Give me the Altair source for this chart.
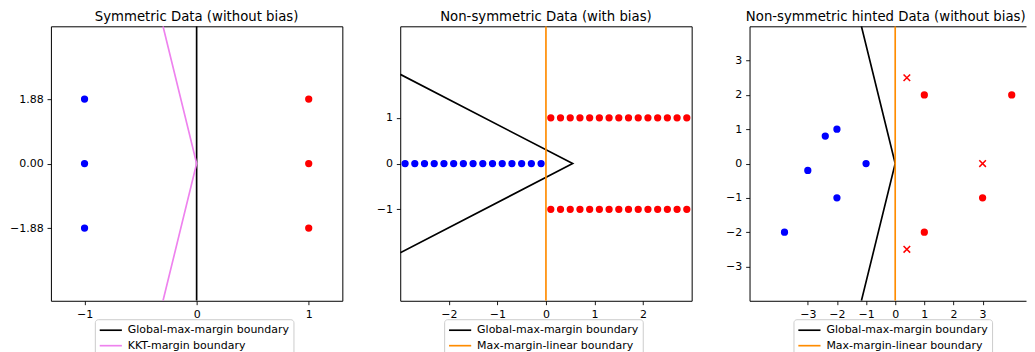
import altair as alt
import pandas as pd

FONT = "DejaVu Sans"

# ---------------- Panel 1: Symmetric Data (without bias) ----------------
p1_title = "Symmetric Data (without bias)"
p1_blue_x = [-1, -1, -1]
p1_blue_y = [1.88, 0.0, -1.88]
p1_red_x = [1, 1, 1]
p1_red_y = [1.88, 0.0, -1.88]
p1_global_x = [0, 0]
p1_global_y = [-4, 4]
p1_kkt_x = [-0.3, 0, -0.3]
p1_kkt_y = [4, 0, -4]
p1_xticks = [-1, 0, 1]
p1_yticks = [-1.88, 0, 1.88]

# ---------------- Panel 2: Non-symmetric Data (with bias) ----------------
p2_title = "Non-symmetric Data (with bias)"
p2_blue_x = [-2.9, -2.7, -2.5, -2.3, -2.1, -1.9, -1.7, -1.5, -1.3, -1.1, -0.9, -0.7, -0.5, -0.3, -0.1]
p2_blue_y = [0, 0, 0, 0, 0, 0, 0, 0, 0, 0, 0, 0, 0, 0, 0]
p2_red_x = [0.1, 0.3, 0.5, 0.7, 0.9, 1.1, 1.3, 1.5, 1.7, 1.9, 2.1, 2.3, 2.5, 2.7, 2.9,
            0.1, 0.3, 0.5, 0.7, 0.9, 1.1, 1.3, 1.5, 1.7, 1.9, 2.1, 2.3, 2.5, 2.7, 2.9]
p2_red_y = [1, 1, 1, 1, 1, 1, 1, 1, 1, 1, 1, 1, 1, 1, 1,
            -1, -1, -1, -1, -1, -1, -1, -1, -1, -1, -1, -1, -1, -1, -1]
p2_global_x = [-3, 0.55, -3]
p2_global_y = [1.95, 0, -1.95]
p2_linear_x = [0, 0]
p2_linear_y = [-3, 3]
p2_xticks = [-2, -1, 0, 1, 2]
p2_yticks = [-1, 0, 1]

# ---------------- Panel 3: Non-symmetric hinted Data (without bias) ----------------
p3_title = "Non-symmetric hinted Data (without bias)"
p3_blue_x = [-3.8, -3.0, -2.4, -2.0, -2.0, -1.0]
p3_blue_y = [-2.0, -0.2, 0.8, 1.0, -1.0, 0.0]
p3_red_x = [1, 4, 3, 1]
p3_red_y = [2, 2, -1, -2]
p3_hint_x = [0.4, 3, 0.4]
p3_hint_y = [2.5, 0, -2.5]
p3_global_x = [-1.16, 0, -1.16]
p3_global_y = [4, 0, -4]
p3_linear_x = [0, 0]
p3_linear_y = [-4, 4]
p3_xticks = [-3, -2, -1, 0, 1, 2, 3]
p3_yticks = [-3, -2, -1, 0, 1, 2, 3]

GLOBAL = "Global-max-margin boundary"
KKT = "KKT-margin boundary"
LINEAR = "Max-margin-linear boundary"

X_MARK = "M-1,-1L1,1M1,-1L-1,1"
LEGEND_LINE = "M-1.85,0H1.85"


def make_panel(title, xdom, ydom, xvals, yvals, xfmt, yfmt, lines, colors,
               dots, crosses, width, open_right=False, title_dx=0):
    names = [n for n, _, _ in lines]
    rows = []
    for n, xs_, ys_ in lines:
        for i, (a, b) in enumerate(zip(xs_, ys_)):
            rows.append({"series": n, "x": a, "y": b, "i": i})
    ldf = pd.DataFrame(rows)

    xs = alt.Scale(domain=xdom, nice=False, zero=False)
    ys = alt.Scale(domain=ydom, nice=False, zero=False)
    xaxis = alt.Axis(values=xvals, format=xfmt, title=None, domain=open_right,
                     grid=False)
    yaxis = alt.Axis(values=yvals, format=yfmt, title=None, domain=open_right,
                     grid=False)
    xenc_main = alt.X("x:Q", scale=xs, axis=xaxis)
    xenc_other = alt.X("x:Q", scale=xs, axis=None) if open_right else xenc_main
    yenc = alt.Y("y:Q", scale=ys, axis=yaxis)
    legend = alt.Legend(
        title=None, orient="none", legendX=44, legendY=293.5, direction="vertical",
        symbolType=LEGEND_LINE, symbolSize=144, symbolStrokeWidth=1.67,
        symbolOffset=5, labelFont=FONT, labelFontSize=11, labelColor="black",
        labelOffset=10, labelLimit=400, padding=4, rowPadding=3.5,
        strokeColor="#cccccc", fillColor="white", cornerRadius=3,
    )

    layers = []
    line = alt.Chart(ldf).mark_line(strokeWidth=1.67, clip=True).encode(
        x=xenc_main, y=yenc,
        color=alt.Color("series:N", scale=alt.Scale(domain=names, range=colors),
                        legend=legend),
        order=alt.Order("i:Q"),
    )
    layers.append(line)
    for xsd, ysd, col in dots:
        df = pd.DataFrame({"x": xsd, "y": ysd})
        layers.append(
            alt.Chart(df).mark_point(filled=True, shape="circle", size=53,
                                     color=col, opacity=1, clip=True)
            .encode(x=xenc_other, y=yenc)
        )
    for xsd, ysd, col in crosses:
        df = pd.DataFrame({"x": xsd, "y": ysd})
        layers.append(
            alt.Chart(df).mark_point(filled=False, shape=X_MARK, size=44,
                                     strokeWidth=1.5, color=col, opacity=1,
                                     clip=True)
            .encode(x=xenc_other, y=yenc)
        )

    if open_right:
        xd, yd, _ = dots[0]
        top_df = pd.DataFrame({"x": xd, "y": yd})
        layers.append(
            alt.Chart(top_df).mark_point(opacity=0).encode(
                x=alt.X("x:Q", scale=xs,
                        axis=alt.Axis(orient="top", labels=False, ticks=False,
                                      domain=True, grid=False, title=None)),
                y=yenc,
            )
        )

    tp = alt.TitleParams(text=title, font=FONT, fontSize=13.3, fontWeight="normal",
                         color="black", offset=3.5, anchor="middle", dx=title_dx)
    ch = alt.layer(*layers)
    if open_right:
        ch = ch.resolve_axis(x="independent").properties(
            view=alt.ViewBackground(stroke="transparent"))
    return ch.properties(width=width, height=275, title=tp)


p1 = make_panel(p1_title, [-1.3, 1.3], [-4, 4], p1_xticks, p1_yticks, "d", ".2f",
                [(GLOBAL, p1_global_x, p1_global_y), (KKT, p1_kkt_x, p1_kkt_y)],
                ["black", "#ee82ee"],
                [(p1_blue_x, p1_blue_y, "#0000ff"), (p1_red_x, p1_red_y, "#ff0000")],
                [], 292)

p2 = make_panel(p2_title, [-3, 3], [-3, 3], p2_xticks, p2_yticks, "d", "d",
                [(GLOBAL, p2_global_x, p2_global_y), (LINEAR, p2_linear_x, p2_linear_y)],
                ["black", "#ff8c00"],
                [(p2_blue_x, p2_blue_y, "#0000ff"), (p2_red_x, p2_red_y, "#ff0000")],
                [], 292)

p3 = make_panel(p3_title, [-5, 4.49], [-4, 4], p3_xticks, p3_yticks, "d", "d",
                [(GLOBAL, p3_global_x, p3_global_y), (LINEAR, p3_linear_x, p3_linear_y)],
                ["black", "#ff8c00"],
                [(p3_blue_x, p3_blue_y, "#0000ff"), (p3_red_x, p3_red_y, "#ff0000")],
                [(p3_hint_x, p3_hint_y, "#ff0000")], 277, open_right=True,
                title_dx=-2)

chart = alt.hconcat(p1, p2, p3, spacing=58, bounds="flush").resolve_scale(
    color="independent"
).resolve_legend(color="independent").properties(
    padding={"left": 0, "top": 0, "right": 0, "bottom": 0}
).configure_view(
    stroke="black", strokeWidth=1
).configure_axis(
    labelFont=FONT, labelFontSize=11, labelColor="black", tickColor="black",
    tickSize=3.9, tickWidth=0.9, labelPadding=3.9, domainColor="black",
    domainWidth=1, grid=False
).configure_legend(
    labelFont=FONT, labelFontSize=11
)

chart.save("out.html", embed_options={"renderer": "svg", "actions": False})
